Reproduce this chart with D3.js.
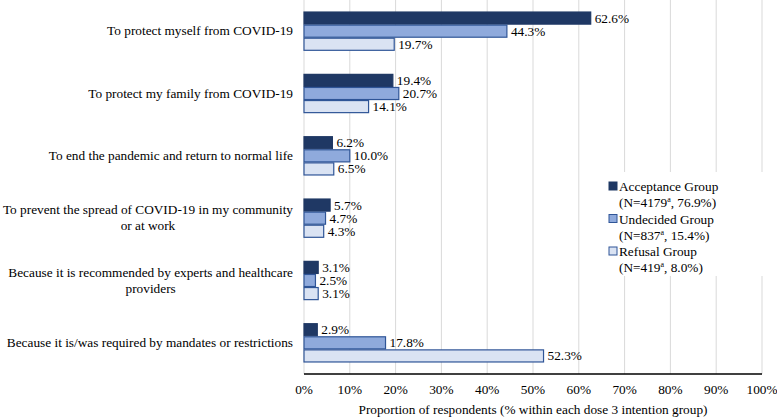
<!DOCTYPE html>
<html><head><meta charset="utf-8">
<script src="https://cdn.jsdelivr.net/npm/d3@7"></script>
<style>body{margin:0;background:#fff}svg{display:block}</style>
</head><body><svg id="c" width="777" height="418"></svg>
<script>
const categories = [
  ["To protect myself from COVID-19"],
  ["To protect my family from COVID-19"],
  ["To end the pandemic and return to normal life"],
  ["To prevent the spread of COVID-19 in my community", "or at work"],
  ["Because it is recommended by experts and healthcare", "providers"],
  ["Because it is/was required by mandates or restrictions"]
];
const seriesNames = ["Acceptance Group", "Undecided Group", "Refusal Group"];
const seriesN = [["4179", "76.9%"], ["837", "15.4%"], ["419", "8.0%"]];
const acceptance = [62.6, 19.4, 6.2, 5.7, 3.1, 2.9];
const undecided = [44.3, 20.7, 10.0, 4.7, 2.5, 17.8];
const refusal = [19.7, 14.1, 6.5, 4.3, 3.1, 52.3];
const xTicks = [0, 10, 20, 30, 40, 50, 60, 70, 80, 90, 100];
const xTitle = "Proportion of respondents (% within each dose 3 intention group)";

const series = [acceptance, undecided, refusal];
const fills = ["#1f3864", "#8faadc", "#dae3f3"];
const strokes = ["#1f3864", "#2f5597", "#2f5597"];
const FONT = "'Times New Roman', Tinos, 'Liberation Serif', serif";
const FS = 13.3;

const svg = d3.select("#c").attr("font-family", FONT);
const L = 304, R = 762, T = 0, B = 374;
const x = d3.scaleLinear().domain([0, 100]).range([L, R]);
const y = d3.scaleBand().domain(d3.range(categories.length)).range([T, B]).paddingInner(0.37).paddingOuter(0.185);
const ys = d3.scaleBand().domain(d3.range(3)).range([0, y.bandwidth()]);

svg.append("g").selectAll("line").data(xTicks).join("line")
  .attr("x1", d => x(d)).attr("x2", d => x(d)).attr("y1", T).attr("y2", B)
  .attr("stroke", "#d9d9d9").attr("stroke-width", 1);

const g = svg.append("g");
series.forEach((vals, si) => {
  g.append("g").selectAll("rect").data(vals).join("rect")
    .attr("x", x(0)).attr("y", (d, i) => y(i) + ys(si) + 0.5)
    .attr("width", d => x(d) - x(0)).attr("height", ys.bandwidth() - 1)
    .attr("fill", fills[si]).attr("stroke", strokes[si]).attr("stroke-width", 1.2);
  g.append("g").selectAll("text").data(vals).join("text")
    .attr("x", d => x(d) + 4).attr("y", (d, i) => y(i) + ys(si) + ys.bandwidth() / 2 + 4.5)
    .attr("font-size", FS).attr("fill", "#000")
    .text(d => d.toFixed(1) + "%");
});

svg.append("line").attr("x1", L).attr("x2", R).attr("y1", B).attr("y2", B)
  .attr("stroke", "#000").attr("stroke-width", 1.5);

svg.append("g").selectAll("text").data(xTicks).join("text")
  .attr("x", d => x(d)).attr("y", B + 20).attr("text-anchor", "middle")
  .attr("font-size", FS).text(d => d + "%");

svg.append("text").attr("x", (L + R) / 2).attr("y", 414).attr("text-anchor", "middle")
  .attr("font-size", FS).text(xTitle);

const labX = 293;
categories.forEach((lines, i) => {
  const cy = y(i) + y.bandwidth() / 2;
  const t = svg.append("text").attr("font-size", FS);
  if (lines.length === 1) {
    t.attr("x", labX).attr("y", cy + 4).attr("text-anchor", "end").text(lines[0]);
  } else {
    const tmp = lines.map(l => { const e = svg.append("text").attr("font-size", FS).text(l); const w = e.node().getComputedTextLength(); e.remove(); return w; });
    const mw = d3.max(tmp);
    t.attr("text-anchor", "middle");
    lines.forEach((l, j) => {
      t.append("tspan").attr("x", labX - mw / 2).attr("y", cy + 4 + (j - (lines.length - 1) / 2) * 16).text(l);
    });
  }
});

const lg = svg.append("g");
lg.append("rect").attr("x", 605).attr("y", 172).attr("width", 160).attr("height", 104).attr("fill", "#fff");
seriesNames.forEach((n, i) => {
  const yy = 191 + i * 32.5;
  lg.append("rect").attr("x", 609).attr("y", yy - 9).attr("width", 8).attr("height", 8)
    .attr("fill", fills[i]).attr("stroke", strokes[i]).attr("stroke-width", 1);
  lg.append("text").attr("x", 619).attr("y", yy).attr("font-size", FS).text(n);
  const t2 = lg.append("text").attr("x", 619).attr("y", yy + 16).attr("font-size", FS);
  t2.append("tspan").text("(N=" + seriesN[i][0]);
  t2.append("tspan").attr("font-size", 8).attr("dy", -5).text("a");
  t2.append("tspan").attr("dy", 5).text(",  " + seriesN[i][1] + ")");
});
</script></body></html>
